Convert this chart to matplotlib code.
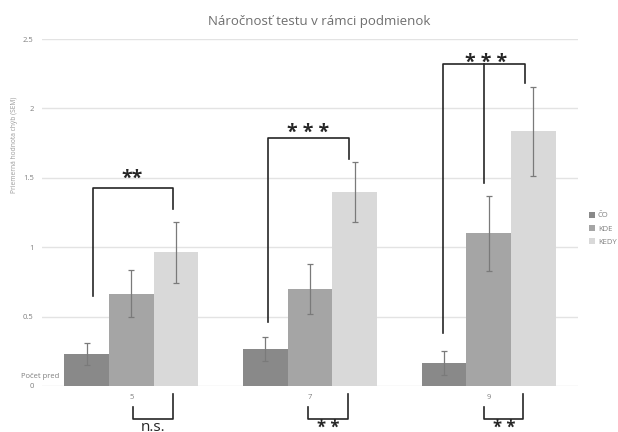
import numpy as np
import matplotlib
matplotlib.use("Agg")
import matplotlib.pyplot as plt

# mean error count per condition, grouped by number of items
groups = ["5", "7", "9"]
conditions = ["ČO", "KDE", "KEDY"]
means_co = [0.23, 0.265, 0.165]
means_kde = [0.665, 0.70, 1.10]
means_kedy = [0.965, 1.40, 1.835]
sem_co = [0.08, 0.085, 0.087]
sem_kde = [0.17, 0.18, 0.27]
sem_kedy = [0.22, 0.215, 0.32]

colors = ["#898989", "#a5a5a5", "#d9d9d9"]
text_grey = "#7f7f7f"
ink = "#262626"

plt.rcParams["font.family"] = ["Open Sans", "DejaVu Sans"]

fig = plt.figure(figsize=(6.18, 4.32), dpi=100)
ax = fig.add_axes([42 / 618, 1 - 386 / 432, 536 / 618, 347 / 432])

x = np.arange(len(groups))
width = 0.25
series = [(means_co, sem_co), (means_kde, sem_kde), (means_kedy, sem_kedy)]
for i, ((vals, errs), name, col) in enumerate(zip(series, conditions, colors)):
    ax.bar(x + (i - 1) * width, vals, width, color=col, label=name, zorder=2)
    ax.errorbar(x + (i - 1) * width, vals, yerr=errs, fmt="none",
                ecolor="#7a7a7a", elinewidth=0.9, capsize=2.5,
                capthick=0.9, zorder=3)

ax.set_xlim(-0.5, 2.5)
ax.set_ylim(0, 2.5)
ax.set_yticks([0, 0.5, 1, 1.5, 2, 2.5])
ax.set_yticklabels(["0", "0.5", "1", "1.5", "2", "2.5"])
ax.set_xticks(x)
ax.set_xticklabels(groups)
ax.yaxis.grid(True, color="#e3e3e3", linewidth=1.0, zorder=0)
ax.set_axisbelow(True)
for s in ax.spines.values():
    s.set_visible(False)
ax.tick_params(axis="both", length=0, labelsize=5.5, labelcolor=text_grey)
ax.tick_params(axis="y", pad=6)
ax.tick_params(axis="x", pad=6)

fig.text(319 / 618, 1 - 21 / 432, "Náročnosť testu v rámci podmienok",
         ha="center", va="center", fontsize=9.5, color="#6e6e6e")
fig.text(15 / 618, 1 - 145 / 432, "Priemerná hodnota chýb (SEM)",
         rotation=90, ha="center", va="center", fontsize=4.8, color="#9a9a9a")
fig.text(21 / 618, 1 - 376 / 432, "Počet pred", ha="left", va="center",
         fontsize=5.5, color=text_grey)

fig.legend(loc="upper left", bbox_to_anchor=(589 / 618, 1 - 212 / 432),
           frameon=False, fontsize=5.5, handlelength=0.75, handleheight=0.75,
           handletextpad=0.4, labelspacing=0.75, borderpad=0, borderaxespad=0,
           labelcolor=text_grey)

# significance brackets above the groups
line_kw = dict(color=ink, linewidth=1.2, clip_on=False, zorder=4)
star_kw = dict(ha="center", va="bottom", fontsize=14, fontweight="bold", color=ink)

ax.plot([-0.214, -0.214, 0.236, 0.236], [0.65, 1.424, 1.424, 1.275], **line_kw)
ax.text(0.005, 1.42, "**", **star_kw)

ax.plot([0.764, 0.764, 1.218, 1.218], [0.463, 1.789, 1.789, 1.635], **line_kw)
ax.text(0.99, 1.754, "* * *", **star_kw)

ax.plot([1.745, 1.745, 2.201, 2.201], [0.382, 2.318, 2.318, 2.181], **line_kw)
ax.plot([1.974, 1.974], [2.318, 1.463], **line_kw)
ax.text(1.985, 2.258, "* * *", **star_kw)

# brackets below the axis
ax.plot([0.0095, 0.0095, 0.236, 0.236], [-0.149, -0.24, -0.24, -0.06], **line_kw)
ax.text(0.12, -0.245, "n.s.", ha="center", va="top", fontsize=11, color=ink)

low_kw = dict(ha="center", va="top", fontsize=12, fontweight="bold", color=ink)
ax.plot([0.99, 0.99, 1.214, 1.214], [-0.149, -0.24, -0.24, -0.06], **line_kw)
ax.text(1.10, -0.238, "* *", **low_kw)

ax.plot([1.972, 1.972, 2.193, 2.193], [-0.149, -0.24, -0.24, -0.06], **line_kw)
ax.text(2.085, -0.238, "* *", **low_kw)

fig.savefig("out.png", dpi=100)
